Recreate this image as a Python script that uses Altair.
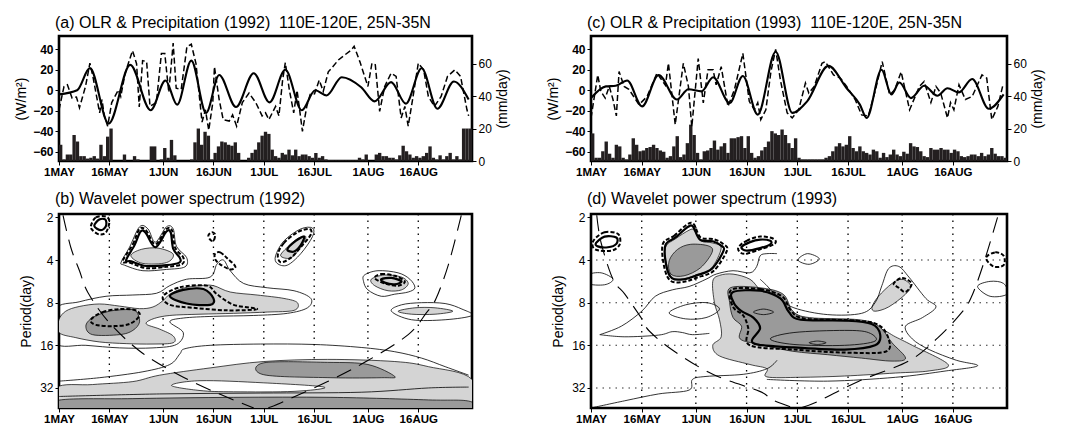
import json
import altair as alt
import pandas as pd

FONT = "Liberation Sans"
NARROW = "Liberation Sans Narrow, Liberation Sans, Arial, sans-serif"

# ---------------- axis ticks ----------------
day_ticks = [0, 15, 31, 46, 61, 76, 92, 107]
day_labels = ["1MAY", "16MAY", "1JUN", "16JUN", "1JUL", "16JUL", "1AUG", "16AUG"]
period_lp = [1, 2, 3, 4, 5]          # log2(period): 2,4,8,16,32
olr_ticks = [-60, -40, -20, 0, 20, 40]
pr_ticks = [0, 20, 40, 60]

# ---------------- 1992 top panel ----------------
precip92 = [10, 1, 4, 4, 16, 12, 3, 3, 1.5, 2,
            3, 1.5, 10, 3, 15, 20, 0, 0, 0, 4,
            0, 0, 3, 1, 0, 0, 0, 9, 9, 0,
            1, 8, 2, 13, 3.5, 0, 0, 0, 0, 1,
            11.5, 20, 10, 18, 15.6, 1, 5, 9, 12, 11.5,
            10, 9.4, 11.5, 5, 0, 0, 2, 5, 7, 11.5,
            15.6, 18, 16.7, 7, 3, 2, 5, 4, 7, 3.5,
            7, 3, 4, 4, 3, 2, 5, 2, 3, 1,
            0.5, 0.5, 0.5, 0.5, 0.5, 0.5, 0.5, 0.5, 0.5, 2,
            1, 4, 0, 0, 4, 5, 3, 3, 2, 2,
            1, 3.5, 9.4, 6, 4, 2, 3, 2, 3, 5,
            9, 2, 1, 3.5, 1, 3, 5, 1, 3, 1,
            20, 20, 20]
solid92 = [(0, -4), (5.4, 0), (9.2, 21.6), (14.8, -32.5), (21.2, 24.8), (27.3, -19.5),
           (31.7, 9.6), (35.2, -14), (39.4, 29), (43.8, -22), (47.7, 15), (52.7, -16.3),
           (58, 16.7), (62.7, -11.8), (67.4, 20), (72.3, -19.5), (76.3, 0), (79.7, -5),
           (84.2, 12.8), (90, 3), (94, -10.8), (98.9, 8), (103.3, -13), (108, 21.5),
           (112.7, -18), (117.6, 8.6), (122, -9)]
dash92 = [(0, -19), (1.5, 3.8), (2.5, 5.4), (3.9, -7.6), (5.2, -6.6), (6.1, -17), (7.9, 3.8),
          (9.2, 26.4), (10.1, 13.5), (12.1, -22), (12.8, -9), (13.5, -25), (14.5, -35),
          (15.7, -12), (17.7, 0.5), (18.4, -6), (19.7, 16.7), (21.9, 38.7), (23.1, 26),
          (23.9, -16.3), (24.9, 29), (26.1, 28), (27.1, -15.6), (29, -12), (30.5, 36),
          (31.5, 36), (32.7, -2), (34, 46), (34.9, 2), (36.4, 1), (38.1, 42.6), (39.4, 45),
          (40.8, 26), (42.6, -31), (43.6, -19), (44.6, -39), (45.8, -12), (46.3, 23),
          (47.7, -9), (48.9, -28.6), (50.7, -30), (51.7, -24), (52.9, -35), (54.6, -12),
          (56.6, -2.7), (58.6, -12), (60.5, -25), (61.5, -22), (62.5, -28.6), (64.5, -15.7),
          (65.5, -25), (66.6, 10), (67.4, 27), (68.6, 0.5), (69.9, -22), (70.9, 0),
          (72.5, -40), (73.8, -15.7), (74.8, -4), (76.1, -3.4), (77.5, 10), (78.7, -1),
          (80.2, 18), (81.2, 21.6), (83.2, 29.6), (85.1, 34.5), (87.1, 39.4), (87.9, 43),
          (89.6, 28), (92, 3.8), (93.2, 26.4), (94.2, 25), (95.5, -20.5), (97, 3.8),
          (98.9, 16.7), (100.4, 13.5), (101.9, -27), (103, -15.7), (104, -35), (105.3, -9),
          (107, 26.4), (108.6, 20), (110, -6), (111.8, -15.7), (113.8, -6), (115.7, 13.5),
          (117.9, 20), (119.6, 13.5), (121.5, -19), (122, -25)]

# ---------------- 1993 top panel ----------------
precip93 = [17, 2, 2, 6, 12, 4.5, 2, 10, 9, 2,
            1, 4, 14, 10, 6, 6.5, 8, 8.6, 10, 8,
            6.5, 5.7, 2, 3, 9, 15.3, 2.4, 4, 11, 22.4,
            16, 5, 1, 6, 6.5, 8, 12.6, 7, 9, 11,
            5, 14, 14, 14.7, 15.3, 8, 15.3, 5, 2, 3,
            6.5, 8.6, 12, 18.4, 17, 16, 19.4, 16, 11, 8,
            14, 2, 1, 1, 1, 1, 1, 1, 1, 2,
            3, 6, 9, 11, 9, 10, 15.3, 8, 6, 9,
            6, 5, 4, 7, 6, 2, 5, 2.4, 4, 7,
            4, 3, 5.7, 4.5, 11, 9, 8.6, 6, 3, 2.4,
            8, 7, 7, 8, 7, 7, 5, 7, 6, 3,
            2.4, 3, 4, 4, 3, 5, 3, 4, 8, 4.5,
            3, 3, 2]
solid93 = [(0, -7.6), (4.4, 3.8), (7.3, 4.4), (10.7, 9.6), (15.1, -15.7), (20, 15),
           (25.4, -9), (28.8, 1), (32.7, -1), (36.1, 12.8), (41, -12.4), (44.9, 14),
           (49.3, -23.7), (54.6, 37.7), (59.5, -22), (63.9, -10.8), (70.2, 23.8), (75.6, 2),
           (79.5, -14), (81.5, -27), (85.9, 20), (88.8, -4), (91.2, 7.6), (94.6, -7.6),
           (98.5, 4.4), (102.4, -5.3), (105.4, 2), (108.8, -2), (112.7, 11), (117.6, -18),
           (122, -4)]
dash93 = [(0, -27), (1, -6), (2, 15), (2.9, -1), (4.2, -7.6), (5.4, 3.8), (6.5, -9),
          (7.5, -25), (8.3, 18.3), (9.8, 3.8), (11.2, 1), (14.2, -14), (16.6, -6),
          (19.5, 16.7), (20.5, 12), (22, 5), (22.9, 26.4), (24.9, -33.5), (27.3, 26.4),
          (28.8, 3.8), (29.8, -35.7), (31.7, 31), (33.2, -12.4), (34.6, 20), (36.1, 20),
          (37, 5.4), (38.5, 23), (40.5, -15.7), (42.4, 0.5), (44.9, 36), (46.8, -10.8),
          (48.3, -19), (49.3, -12), (50.2, -28.6), (51.7, -19), (53.2, 18.3), (54.6, 40),
          (56, 10), (58, -22), (59.5, -27), (61.4, -19), (63.4, 7), (64.4, -2.7), (66, 3.8),
          (68.3, 26.4), (69.3, 28), (71.7, 15), (73.7, 12), (75.6, 3.8), (78.1, -9),
          (80, -24), (82, -25), (84, -1), (86.1, 28), (88.3, -4.5), (89.8, 0.5), (91.7, 18),
          (94.2, -19), (97.1, 3.8), (98.5, 8.6), (100.5, -12), (102, 3.8), (103.4, -2.7),
          (105.4, -27), (106.3, -12), (107.3, -19), (108.8, 5.4), (110.7, -9), (112.7, -6),
          (115.6, 15), (117, 12), (118.5, -28.6), (120.3, -15.7), (121.7, 3.8)]

# ---------------- wavelet 1992 (day, log2 period) ----------------
b_light = {
    "l1": [(0, 3.4), (2, 3.2), (6, 3.09), (12, 3.03), (18, 3.08), (24, 3.14), (28, 3.1), (31, 2.95),
           (33, 2.8), (37, 2.66), (42, 2.6), (46, 2.6), (51, 2.75), (59, 2.82), (67, 2.9), (71, 3.0),
           (70, 3.18), (62, 3.22), (52, 3.25), (42, 3.27), (33, 3.3), (28, 3.38), (26, 3.5), (30, 3.62),
           (34, 3.78), (34, 3.94), (28, 3.97), (20, 3.96), (12, 3.92), (5, 3.82), (0, 3.7)],
    "l2": [(21.4, 1.9), (24.5, 1.75), (29.5, 1.72), (34, 1.86), (32, 2.06), (25, 2.08)],
    "l3": [(66, 1.9), (68, 1.7), (71, 1.5), (73.5, 1.45), (72, 1.7), (69, 1.95)],
    "l4": [(93, 2.45), (97, 2.35), (102, 2.4), (104, 2.55), (102, 2.7), (98, 2.72), (94, 2.6)],
    "l5": [(101, 3.2), (106, 3.12), (112, 3.12), (117.3, 3.2), (112, 3.27), (105, 3.27)],
    "l6": [(-1, 5.0), (10, 4.92), (22, 4.85), (30, 4.7), (45, 4.53), (61, 4.38), (80, 4.33),
           (100, 4.38), (110, 4.5), (123, 4.8), (124, 5.7), (-2, 5.7)],
}
b_mid = {
    "m1": [(33, 2.85), (37, 2.7), (43, 2.68), (46, 2.9), (45, 3.05), (38, 3.02)],
    "m2": [(8, 3.55), (10, 3.35), (15, 3.2), (21, 3.16), (23, 3.2), (24, 3.45), (22, 3.65), (18, 3.75), (10, 3.75)],
    "m3": [(61, 4.41), (80, 4.4), (92, 4.45), (100, 4.73), (96, 4.76), (81, 4.76), (61, 4.69)],
    "m4": [(-1, 5.3), (22, 5.25), (52, 5.22), (81, 5.22), (110, 5.28), (123, 5.33), (124, 5.7), (-2, 5.7)],
}
b_white = {
    "w1": [(33.5, 4.94), (42, 4.83), (61, 4.88), (79, 4.98), (70, 5.08), (52, 5.09), (42, 5.06)],
}
b_thin = {
    "t1": [(18.5, 2.05), (21, 1.7), (24, 1.22), (26.5, 1.27), (28.7, 1.58), (32, 1.22), (34, 1.27),
           (35, 1.68), (38, 1.94), (37.5, 2.16), (32, 2.22), (25, 2.25), (19.5, 2.12)],
    "t2": [(64.5, 1.9), (67, 1.55), (72, 1.27), (75.5, 1.25), (75.5, 1.45), (72, 1.85), (68, 2.12), (65, 2.08)],
    "t3": [(90.7, 2.5), (91, 2.35), (95, 2.25), (101, 2.3), (104.5, 2.45), (106, 2.65), (104, 2.75),
           (100, 2.8), (96, 2.85), (92, 2.7)],
    "t4": [(-1, 3.15), (6, 2.98), (14, 2.85), (22, 2.82), (29, 2.78), (33, 2.6), (38, 2.45), (45, 2.4),
           (47, 2.1), (49, 2.0), (51, 2.25), (55, 2.55), (62, 2.65), (70, 2.72), (75, 2.9), (74, 3.12),
           (68, 3.25), (58, 3.3), (46, 3.32), (37, 3.36), (33, 3.45), (37, 3.7), (35, 3.98), (28, 4.06),
           (18, 4.06), (8, 4.0), (-1, 3.95)],
    "t5": [(99, 3.2), (102, 3.05), (108, 3.0), (115, 3.02), (120, 3.15), (123, 3.3), (115, 3.4), (105, 3.4)],
}
b_open = {
    "o1": [(0, 4.84), (12, 4.76), (25, 4.62), (33, 4.45), (36, 4.2), (37.5, 4.08), (45, 4.0), (60, 3.97),
           (76, 3.98), (90, 4.05), (100, 4.15), (108, 4.3), (115, 4.5), (122, 4.7)],
    "o2": [(0, 5.2), (30, 5.14), (60, 5.12), (90, 5.1), (110, 5.0), (122, 4.98)],
}
b_dash = {
    "d1": [(9.5, 1.2), (11, 1.0), (14, 0.98), (15, 1.1), (14, 1.35), (12, 1.4), (10, 1.3)],
    "d2": [(19, 2.02), (22, 1.63), (24, 1.27), (26, 1.31), (28.7, 1.63), (32, 1.27), (33.7, 1.31),
           (34.6, 1.71), (37, 1.94), (36.6, 2.1), (32, 2.16), (26, 2.19), (21, 2.06)],
    "d3": [(44.5, 1.42), (45.5, 1.35), (46.5, 1.4), (46, 1.55), (45, 1.52)],
    "d4": [(46.5, 1.85), (48, 1.82), (50, 1.95), (52.5, 2.15), (51, 2.22), (48, 2.1), (46.5, 1.98)],
    "d5": [(65.2, 1.86), (67, 1.6), (71, 1.35), (74.5, 1.27), (75, 1.4), (72, 1.7), (69, 1.95), (66, 2.05)],
    "d6": [(94, 2.42), (96, 2.33), (100, 2.37), (103, 2.5), (101, 2.6), (97, 2.55)],
    "d7": [(31, 2.85), (36, 2.64), (44, 2.6), (47, 2.8), (52, 3.05), (59, 3.15), (50, 3.18), (40, 3.12), (33, 3.05)],
    "d8": [(9.5, 3.4), (13, 3.22), (18, 3.15), (22.5, 3.17), (24, 3.3), (21, 3.5), (16, 3.55), (11, 3.52)],
}
b_thick = {
    "k1": [(10.5, 1.2), (12, 1.05), (13.8, 1.05), (14, 1.2), (12.5, 1.3)],
    "k2": [(33, 2.85), (37, 2.7), (43, 2.68), (46, 2.9), (45, 3.05), (38, 3.02)],
    "k3": [(68, 1.75), (70.5, 1.55), (73, 1.45), (72, 1.65), (70, 1.8)],
    "k4": [(96, 2.45), (99, 2.42), (102, 2.5), (100, 2.57), (97, 2.53)],
    "k5": [(20, 2.0), (22.5, 1.65), (24.3, 1.33), (25.8, 1.36), (28.7, 1.7), (32, 1.33), (33.3, 1.36),
           (34, 1.73), (36, 1.95), (35.8, 2.06), (32, 2.12), (26, 2.14), (21.5, 2.03)],
}
b_coi = {
    "left": [(1.2, 0.95), (3.5, 1.7), (6.1, 2.25), (8.6, 2.76), (15, 3.47), (24.8, 4.18), (36.6, 4.73),
             (48, 5.15), (58, 5.47)],
    "right": [(119.8, 0.95), (116, 2.1), (112.2, 2.92), (109.4, 3.24), (104, 3.75), (91.7, 4.37),
              (80, 4.85), (66, 5.35), (62, 5.47)],
}

# ---------------- wavelet 1993 ----------------
d_light = {
    "l1": [(22, 1.7), (25, 1.5), (29, 1.3), (30.5, 1.3), (32.5, 1.55), (36, 1.6), (38.5, 1.72),
           (35.5, 2.2), (31, 2.35), (27, 2.45), (24, 2.42), (22.5, 2.15)],
    "l2": [(36, 2.5), (38, 2.36), (42, 2.33), (47, 2.45), (50, 2.7), (54, 2.95), (59, 3.2), (65, 3.4),
           (75, 3.45), (85, 3.6), (90, 3.8), (95, 4.0), (105.6, 4.45), (100, 4.6), (90, 4.65), (75, 4.72),
           (62, 4.75), (52, 4.74), (52, 4.55), (47, 4.45), (38, 4.25), (36, 4.0), (38.5, 3.8), (38, 3.4),
           (36.5, 3.0)],
    "l3": [(83.1, 3.1), (85, 2.85), (89, 2.55), (92, 2.45), (94.5, 2.6), (93, 2.8), (88, 3.1), (84, 3.2)],
}
d_mid = {
    "m1": [(23.1, 2.02), (25.6, 1.75), (29.5, 1.63), (34.8, 1.67), (35.8, 1.82), (32.4, 2.18),
           (27.5, 2.37), (23.6, 2.33)],
    "m2": [(41.2, 2.65), (50, 2.65), (56.8, 2.8), (59.7, 3.2), (64.6, 3.35), (79.2, 3.4), (85.1, 3.55),
           (89, 3.94), (93, 4.3), (89, 4.37), (80, 4.3), (70, 4.22), (59.7, 4.14), (50, 3.98),
           (44.1, 3.85), (44.5, 3.55), (42, 3.35), (41, 3.0)],
}
d_white = {}
d_thin = {
    "t1": [(-1, 2.35), (3, 2.3), (6.5, 2.45), (4, 2.58), (-1, 2.55)],
    "t2": [(61.2, 2.0), (64, 1.85), (67.5, 1.97), (64.5, 2.1)],
    "t3": [(23.1, 3.24), (28, 3.05), (34.3, 3.0), (38, 3.15), (34, 3.35), (28, 3.38)],
    "t4": [(53, 3.85), (60, 3.7), (75, 3.65), (82, 3.7), (84, 3.9), (75, 4.0), (60, 3.98)],
    "t5": [(64.5, 3.94), (67, 3.9), (69.5, 3.94), (67, 3.98)],
    "t6": [(48, 3.22), (51, 3.15), (54, 3.22), (51, 3.28)],
    "t7": [(114.3, 2.62), (118, 2.5), (122, 2.55), (123, 2.8), (118, 2.85)],
}
d_open = {
    "o1": [(2.6, 3.75), (9, 3.55), (15, 3.2), (19, 2.85), (24, 2.7), (29, 2.62), (34, 2.45), (37, 2.33),
           (42, 2.25), (47, 2.3), (49, 2.15), (50, 1.9), (52, 1.85), (55, 1.85)],
    "o2": [(2.6, 3.75), (10, 3.8), (20, 3.76), (24, 3.68), (27, 3.7), (30, 3.75), (35, 3.72)],
    "o3": [(0, 5.47), (10, 5.3), (20, 5.14), (29, 5.05), (30, 4.8), (34, 4.73), (45, 4.68), (52, 4.55),
           (55, 4.35)],
    "o4": [(52, 4.8), (70, 4.84), (90, 4.75), (105, 4.6), (114.3, 4.48), (108, 4.35), (100, 4.1),
           (95, 3.85), (93, 3.55), (98, 3.35), (102, 3.1), (99, 2.9), (94, 2.4), (91, 2.15), (88, 2.2),
           (86, 2.6), (84, 3.0), (80, 3.25), (70, 3.28), (60, 3.12), (55, 2.85), (52, 2.6), (50, 2.45)],
}
d_dash = {
    "d1": [(0.7, 1.55), (4, 1.35), (8, 1.39), (8.5, 1.63), (6, 1.78), (1.2, 1.75)],
    "d2": [(21.2, 1.63), (24.6, 1.43), (28.5, 1.16), (30.4, 1.16), (32.4, 1.47), (36.3, 1.51),
           (39.2, 1.63), (40.2, 1.78), (36.3, 2.25), (31.4, 2.41), (27.5, 2.51), (23.6, 2.49), (21.7, 2.18)],
    "d3": [(43.6, 1.7), (46, 1.55), (50, 1.45), (53.9, 1.5), (54.3, 1.62), (50, 1.75), (46, 1.85), (44.1, 1.82)],
    "d4": [(41.5, 2.7), (50, 2.68), (56.5, 2.85), (59, 3.17), (63, 3.37), (78, 3.42), (85, 3.52), (88, 3.85),
           (87, 4.15), (75, 4.17), (60, 4.1), (47, 4.0), (46.5, 3.6), (45, 3.3), (42, 3.1)],
    "d5": [(89.5, 2.55), (92, 2.42), (94.8, 2.55), (93, 2.75), (91, 2.65)],
    "d6": [(116.8, 1.95), (119.5, 1.82), (122, 1.9), (122, 2.12), (119, 2.15)],
}
d_thick = {
    "k1": [(1.5, 1.6), (4, 1.45), (7.5, 1.47), (7.5, 1.62), (5, 1.7), (2, 1.68)],
    "k2": [(22, 1.65), (25, 1.47), (28.7, 1.22), (30.2, 1.22), (32.2, 1.52), (36, 1.56), (38.5, 1.66),
           (39.2, 1.78), (35.8, 2.2), (31.2, 2.36), (27.5, 2.45), (24, 2.43), (22.3, 2.15)],
    "k3": [(44.5, 1.7), (47, 1.58), (50, 1.52), (53, 1.55), (53, 1.63), (50, 1.72), (46, 1.78)],
    "k4": [(42, 2.75), (50, 2.72), (56, 2.9), (58.5, 3.22), (62, 3.4), (75, 3.42), (83, 3.5), (85.5, 3.75),
           (84, 4.0), (75, 4.1), (60, 4.05), (48, 3.95), (50, 3.6), (48, 3.35), (44.5, 3.2), (42.2, 3.0)],
}
d_coi = {
    "left": [(1.7, 0.95), (3, 1.6), (6.5, 2.45), (10, 2.8), (14.8, 3.35), (17.3, 3.67), (24.6, 4.14),
             (36.3, 4.69), (49.9, 5.08), (53.4, 5.27), (60, 5.47)],
    "right": [(120.2, 1.0), (116, 2.1), (112.4, 2.88), (109.5, 3.24), (102.6, 3.82), (93.9, 4.37),
              (79.2, 4.84), (67.5, 5.3), (62, 5.47)],
}
grid_days = [15, 31, 46, 61, 76, 92, 107]
grid_lp_d = [2, 3, 4, 5]

# ---------------- helpers ----------------
LABEL_EXPR = "%s[indexof(%s, datum.value)]" % (json.dumps(day_labels), json.dumps(day_ticks))
XDOM = [0, 123]
LPDOM = [0.92, 5.47]


def x_axis():
    return alt.Axis(values=day_ticks, labelExpr=LABEL_EXPR, title=None, grid=False, domain=False,
                    tickSize=4, tickColor="black", tickWidth=1, labelFont=NARROW, labelFontWeight="bold",
                    labelFontSize=11.5, labelColor="black", labelPadding=1, labelFlush=False)


def panel_title(text, offset):
    return alt.TitleParams(text, anchor="start", frame="group", font=FONT, fontSize=16,
                           fontWeight="normal", color="black", offset=offset, dx=-4)


def top_panel(title, precip, solid, dash, w):
    dfp = pd.DataFrame({"day": list(range(len(precip))), "p": precip})
    dfs = pd.DataFrame(solid, columns=["day", "v"])
    dfd = pd.DataFrame(dash, columns=["day", "v"])
    xs = alt.Scale(domain=XDOM, nice=False, zero=False)
    bars = alt.Chart(dfp).transform_calculate(d2="datum.day + 1").mark_bar(
        color="#231f20", clip=True).encode(
        x=alt.X("day:Q", scale=xs, axis=x_axis()),
        x2="d2:Q",
        y=alt.Y("p:Q", scale=alt.Scale(domain=[0, 77], nice=False, zero=True),
                axis=alt.Axis(orient="right", values=pr_ticks, title="(mm/day)", titleAngle=270,
                              titleBaseline="top", titleFont=FONT, titleFontSize=14,
                              titleFontWeight="normal", titleColor="black", titlePadding=4,
                              labelFont=FONT, labelFontSize=12, labelColor="black",
                              tickSize=4, tickColor="black", domain=False, grid=False, labelPadding=2)),
        y2=alt.datum(0),
    )
    yl = alt.Y("v:Q", scale=alt.Scale(domain=[-69, 53], nice=False, zero=False),
               axis=alt.Axis(orient="left", values=olr_ticks, title="(W/m²)", titleFont=FONT,
                             titleFontSize=14, titleFontWeight="normal", titleColor="black",
                             titlePadding=4, labelFont=FONT, labelFontWeight="bold", labelFontSize=12,
                             labelColor="black", tickSize=4, tickColor="black", domain=False,
                             grid=False, labelPadding=2))
    xl = alt.X("day:Q", scale=xs, axis=x_axis())
    dl = alt.Chart(dfd).mark_line(color="black", strokeWidth=1.5, strokeDash=[6, 3], clip=True).encode(
        x=xl, y=yl, order="day:Q")
    sl = alt.Chart(dfs).mark_line(color="black", strokeWidth=2.1, interpolate="monotone", clip=True).encode(
        x=xl, y=yl, order="day:Q")
    return alt.layer(bars, alt.layer(dl, sl)).resolve_scale(y="independent").properties(
        width=w, height=125, title=panel_title(title, 5))


def poly_df(polys):
    rows = []
    for pid, pts in polys.items():
        for i, (d, l) in enumerate(pts):
            rows.append({"pid": pid, "i": i, "day": d, "lp": l})
    return pd.DataFrame(rows)


def wave_panel(title, w, layers_spec, hgrid):
    xs = alt.Scale(domain=XDOM, nice=False, zero=False)
    ys = alt.Scale(domain=LPDOM, nice=False, zero=False, reverse=True)
    xe = alt.X("day:Q", scale=xs, axis=x_axis())
    ye = alt.Y("lp:Q", scale=ys, axis=alt.Axis(values=period_lp, labelExpr="'' + pow(2, datum.value)",
                                                title="Period(day)", titleFont=FONT, titleFontSize=14,
                                                titleFontWeight="normal", titleColor="black",
                                                titlePadding=6, labelFont=FONT, labelFontSize=12,
                                                labelColor="black", tickSize=4, tickColor="black",
                                                domain=False, grid=False, labelPadding=2))
    layers = []
    gv = alt.Chart(pd.DataFrame({"day": grid_days})).mark_rule(
        color="black", strokeDash=[1.5, 5], strokeWidth=1.3).encode(x=xe)
    layers.append(gv)
    if hgrid:
        gh = alt.Chart(pd.DataFrame({"lp": hgrid})).mark_rule(
            color="#333333", strokeDash=[1.5, 5], strokeWidth=1.1).encode(y=ye)
        layers.append(gh)
    for polys, kw in layers_spec:
        if not polys:
            continue
        layers.append(alt.Chart(poly_df(polys)).mark_line(clip=True, **kw).encode(
            x=xe, y=ye, detail="pid:N", order="i:Q"))
    return alt.layer(*layers).properties(width=w, height=194, title=panel_title(title, 4))


def spec(light, mid, white, thin, opn, dash, thick, coi):
    return [
        (light, dict(interpolate="cardinal-closed", fill="#d4d4d4", stroke="black", strokeWidth=0.7)),
        (mid, dict(interpolate="cardinal-closed", fill="#9a9a9a", stroke="black", strokeWidth=0.7)),
        (white, dict(interpolate="cardinal-closed", fill="white", stroke="black", strokeWidth=0.7)),
        (thin, dict(interpolate="cardinal-closed", stroke="black", strokeWidth=0.8)),
        (opn, dict(interpolate="cardinal", stroke="black", strokeWidth=0.8)),
        (dash, dict(interpolate="cardinal-closed", stroke="black", strokeWidth=2, strokeDash=[4, 2])),
        (thick, dict(interpolate="cardinal-closed", stroke="black", strokeWidth=2.2)),
        (coi, dict(interpolate="cardinal", stroke="black", strokeWidth=1.1, strokeDash=[16, 9])),
    ]


pa = top_panel("(a) OLR & Precipitation (1992) \u00a0110E-120E, 25N-35N", precip92, solid92, dash92, 413)
pc = top_panel("(c) OLR & Precipitation (1993) \u00a0110E-120E, 25N-35N", precip93, solid93, dash93, 416)
pb = wave_panel("(b) Wavelet power spectrum (1992)", 413,
                spec(b_light, b_mid, b_white, b_thin, b_open, b_dash, b_thick, b_coi), None)
pd_ = wave_panel("(d) Wavelet power spectrum (1993)", 416,
                 spec(d_light, d_mid, d_white, d_thin, d_open, d_dash, d_thick, d_coi), grid_lp_d)

chart = alt.hconcat(
    alt.vconcat(pa, pb, spacing=11),
    alt.vconcat(pc, pd_, spacing=11),
    spacing=34,
).configure(font=FONT, background="white", padding=5).configure_view(stroke="black", strokeWidth=2.6)

chart.save("out.html", embed_options={"renderer": "svg", "actions": False})
